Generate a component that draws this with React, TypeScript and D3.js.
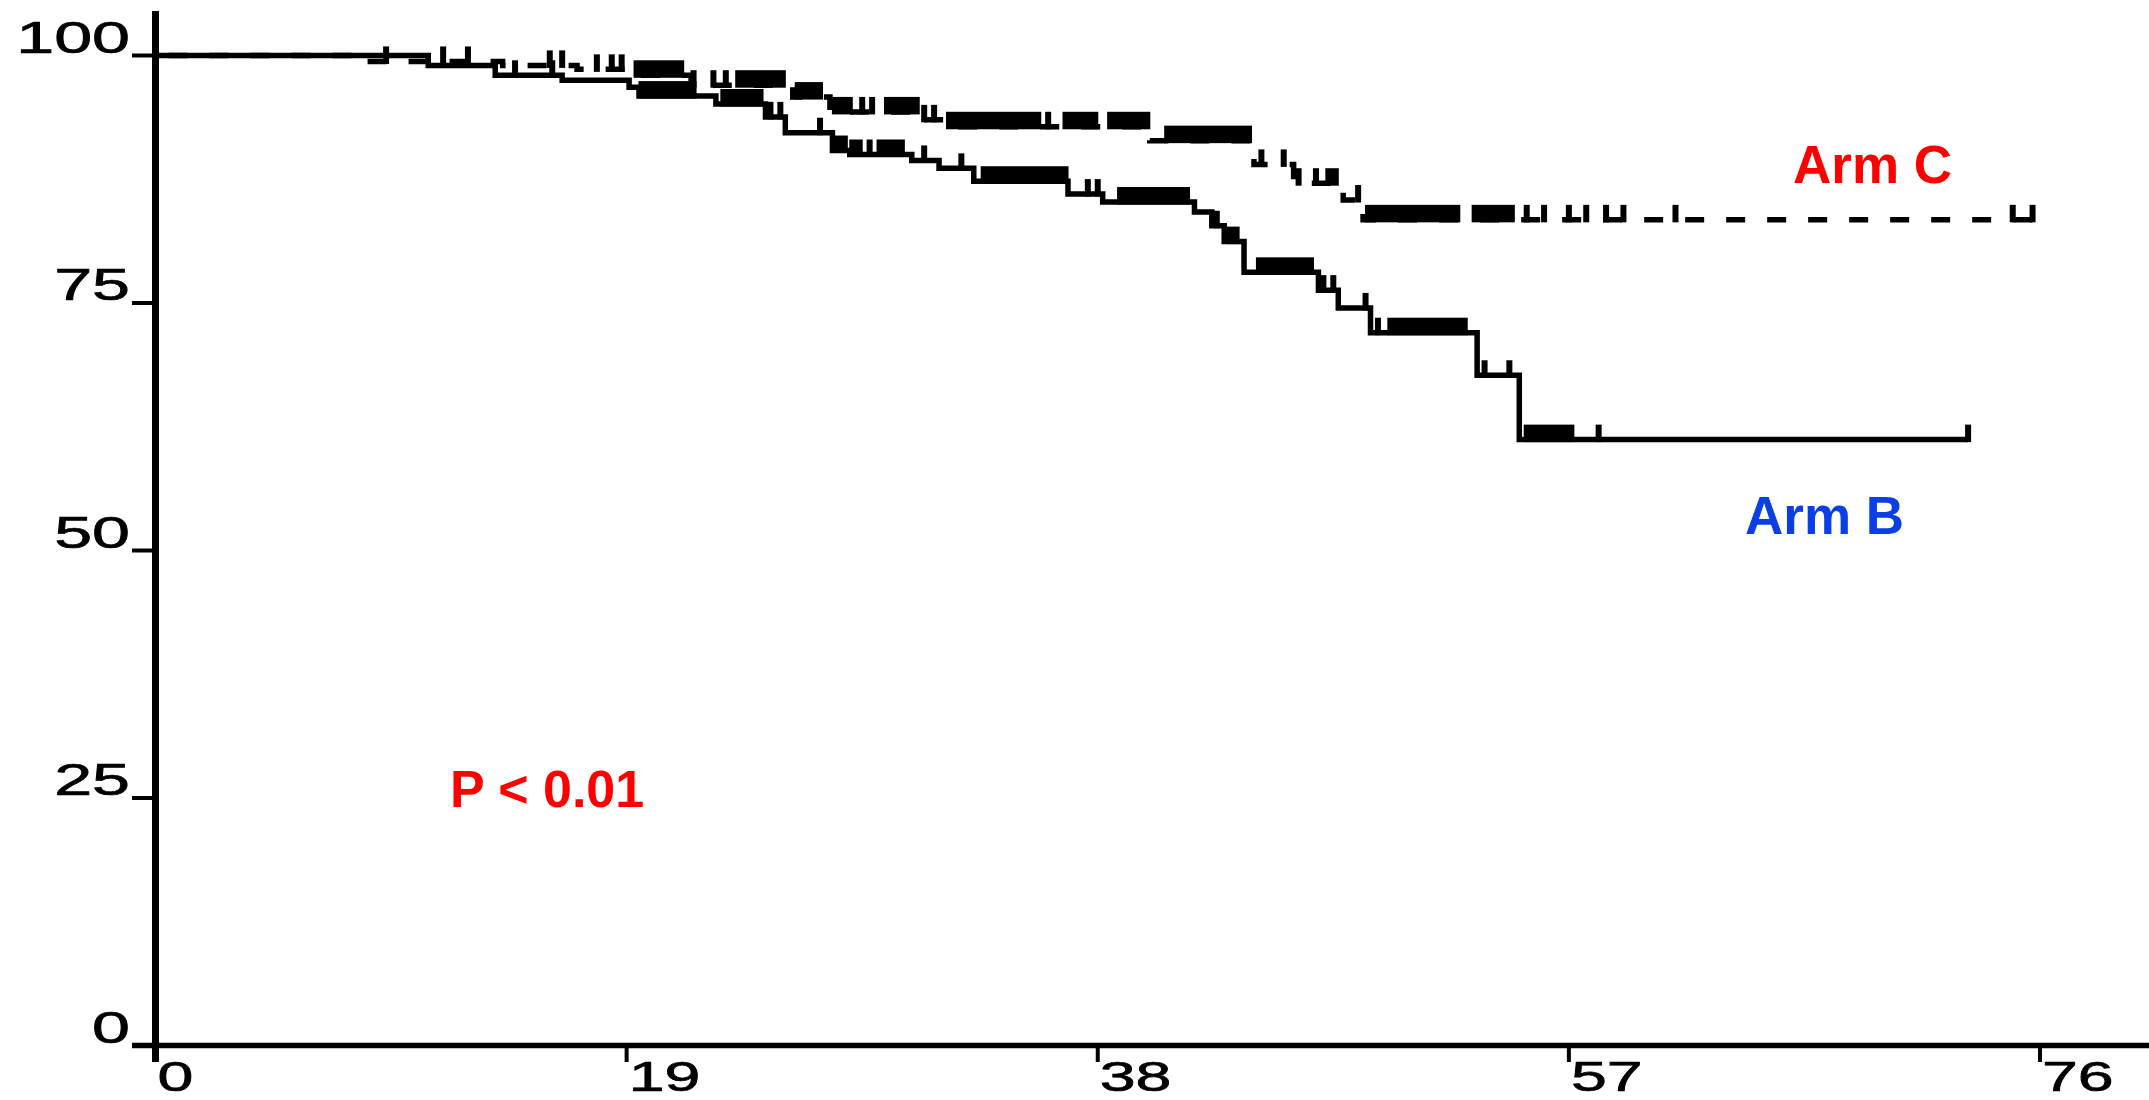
import React from 'react';
import * as d3 from 'd3';

// ---- data ----
const xTicks = [0, 19, 38, 57, 76];
const yTicks = [0, 25, 50, 75, 100];

// Arm B (solid) Kaplan-Meier steps
const armBTimes = [0, 11.0, 13.7, 16.4, 19.1, 19.5, 22.6, 24.6, 25.4, 27.3, 28.0, 30.5, 31.6, 33.0, 36.8, 38.2, 41.9, 42.6, 43.1, 43.9, 46.9, 47.7, 49.0, 53.3, 55.0, 73.1];
const armBSurv = [100, 99.0, 98.0, 97.5, 96.8, 95.9, 95.1, 93.8, 92.2, 90.4, 90.0, 89.4, 88.6, 87.3, 86.0, 85.2, 84.2, 82.8, 81.2, 78.1, 76.3, 74.5, 72.0, 67.7, 61.2, 61.2];
const armBCensor = [14.5, 16.0, 19.6, 19.9, 20.2, 20.5, 20.8, 21.1, 21.4, 21.7, 22.9, 23.2, 23.5, 23.8, 24.1, 24.4, 24.8, 25.2, 26.8, 27.5, 27.8, 28.1, 28.4, 28.8, 29.2, 29.5, 29.8, 30.1, 31.0, 32.5, 33.4, 33.7, 34.0, 34.3, 34.6, 34.9, 35.2, 35.5, 35.8, 36.1, 36.4, 36.7, 37.6, 38.0, 38.9, 39.2, 39.5, 39.8, 40.1, 40.4, 40.7, 41.0, 41.3, 41.6, 42.8, 43.3, 43.6, 44.5, 44.8, 45.1, 45.4, 45.7, 46.0, 46.3, 46.6, 47.1, 47.5, 48.8, 49.3, 49.8, 50.1, 50.4, 50.7, 51.0, 51.3, 51.6, 51.9, 52.2, 52.5, 52.8, 53.6, 54.6, 55.3, 55.6, 55.9, 56.2, 56.5, 56.8, 57.1, 58.2, 73.1];

// Arm C (dashed) Kaplan-Meier steps
const armCTimes = [0, 8.3, 14.0, 17.0, 19.3, 21.6, 25.7, 27.2, 30.8, 31.8, 40.1, 44.3, 45.9, 47.9, 48.7, 75.7];
const armCSurv = [100, 99.4, 99.0, 98.6, 98.0, 97.0, 95.8, 94.3, 93.5, 92.8, 91.4, 89.0, 87.1, 85.4, 83.4, 83.4];
const armCCensor = [9.3, 11.6, 12.6, 15.9, 16.4, 17.8, 18.4, 18.8, 19.4, 19.7, 20.0, 20.3, 20.6, 20.9, 21.2, 21.7, 22.5, 23.0, 23.5, 23.8, 24.1, 24.4, 24.7, 25.0, 25.3, 25.9, 26.2, 26.5, 26.8, 27.4, 27.7, 28.0, 28.5, 28.9, 29.5, 29.8, 30.1, 30.4, 30.7, 31.0, 31.4, 32.0, 32.3, 32.6, 32.9, 33.2, 33.5, 33.8, 34.1, 34.4, 34.7, 35.0, 35.3, 35.6, 36.0, 36.7, 37.0, 37.3, 37.6, 37.9, 38.5, 38.8, 39.1, 39.4, 39.7, 40.0, 40.8, 41.1, 41.4, 41.7, 42.0, 42.3, 42.6, 42.9, 43.2, 43.5, 43.8, 44.1, 44.6, 45.5, 46.1, 46.8, 47.3, 47.6, 48.5, 48.9, 49.2, 49.5, 49.8, 50.1, 50.4, 50.7, 51.0, 51.3, 51.6, 51.9, 52.2, 52.5, 53.2, 53.5, 53.8, 54.1, 54.4, 54.7, 55.3, 56.0, 57.0, 57.7, 58.5, 59.2, 61.3, 74.9, 75.7];

const seriesLabels = ['Arm C', 'Arm B'];
const pValueText = 'P < 0.01';

const W = 2149;
const H = 1100;

function stepValue(times: number[], surv: number[], t: number) {
  let s = surv[0];
  for (let i = 0; i < times.length; i++) {
    if (times[i] <= t + 1e-9) s = surv[i];
  }
  return s;
}

export default function App() {
  const x = d3.scaleLinear().domain([0, 76]).range([155.5, 2040]);
  const y = d3.scaleLinear().domain([0, 100]).range([1045.5, 55.5]);

  const line = d3
    .line<[number, number]>()
    .x((d) => x(d[0]))
    .y((d) => y(d[1]))
    .curve(d3.curveStepAfter);

  const bPts = armBTimes.map((t, i) => [t, armBSurv[i]] as [number, number]);
  const cPts = armCTimes.map((t, i) => [t, armCSurv[i]] as [number, number]);

  const tickFont = '"Liberation Sans", Arial, sans-serif';
  const labelFont = '"Liberation Sans", Arial, Helvetica, sans-serif';

  const TICK_W = 6;
  // censor marks: vertical ticks rising from the curve; ticks that touch are drawn as one block
  const censorMarks = (times: number[], surv: number[], cens: number[], key: string) => {
    const marks = cens
      .map((t) => ({ px: x(t), py: y(stepValue(times, surv, t)) }))
      .sort((a, b) => a.px - b.px);
    const groups: { x0: number; x1: number; py: number }[] = [];
    marks.forEach((m) => {
      const g = groups[groups.length - 1];
      if (g && Math.abs(g.py - m.py) < 0.5 && m.px - g.x1 <= 9) {
        g.x1 = m.px;
      } else {
        groups.push({ x0: m.px, x1: m.px, py: m.py });
      }
    });
    return groups.map((g, i) => (
      <rect
        key={key + i}
        x={g.x0 - TICK_W / 2}
        width={g.x1 - g.x0 + TICK_W}
        y={g.py - 15}
        height={17.5}
        fill="#000"
      />
    ));
  };

  return (
    <svg
      width={W}
      height={H}
      viewBox={`0 0 ${W} ${H}`}
      style={{ position: 'absolute', left: 0, top: 0, background: '#fff' }}
    >
      <rect x={0} y={0} width={W} height={H} fill="#fff" />
      {/* y axis */}
      <line x1={x(0)} x2={x(0)} y1={11} y2={1062} stroke="#000" strokeWidth={7} />
      {/* x axis */}
      <line x1={132} x2={W} y1={y(0)} y2={y(0)} stroke="#000" strokeWidth={5.5} />
      {/* y ticks */}
      {yTicks.map((v) => (
        <g key={'yt' + v}>
          <line x1={132} x2={x(0)} y1={y(v)} y2={y(v)} stroke="#000" strokeWidth={4} />
          <text
            transform={`translate(130, ${y(v) - 3}) scale(1.55, 1)`}
            textAnchor="end"
            fontFamily={tickFont}
            fontSize={44}
            fill="#000"
            stroke="#000"
            strokeWidth={0.7}
          >
            {v}
          </text>
        </g>
      ))}
      {/* x ticks */}
      {xTicks.map((v) => (
        <g key={'xt' + v}>
          <line x1={x(v)} x2={x(v)} y1={y(0)} y2={1062} stroke="#000" strokeWidth={4} />
          <text
            transform={`translate(${x(v) + 2}, 1091) scale(1.5, 1)`}
            textAnchor="start"
            fontFamily={tickFont}
            fontSize={43}
            fill="#000"
            stroke="#000"
            strokeWidth={0.7}
          >
            {v}
          </text>
        </g>
      ))}

      {/* curves */}
      <path d={line(bPts) || ''} fill="none" stroke="#000" strokeWidth={5.5} />
      <path
        d={line(cPts) || ''}
        fill="none"
        stroke="#000"
        strokeWidth={5.5}
        strokeDasharray="19 22"
        strokeDashoffset={28}
      />
      {censorMarks(armBTimes, armBSurv, armBCensor, 'cb')}
      {censorMarks(armCTimes, armCSurv, armCCensor, 'cc')}

      {/* annotations */}
      <text x={1793} y={183} fontFamily={labelFont} fontWeight="bold" fontSize={53} fill="#ff0000">
        {seriesLabels[0]}
      </text>
      <text x={1745} y={534} fontFamily={labelFont} fontWeight="bold" fontSize={53} fill="#0b3fe6">
        {seriesLabels[1]}
      </text>
      <text x={450} y={807} fontFamily={labelFont} fontWeight="bold" fontSize={52} fill="#ff0000">
        {pValueText}
      </text>
    </svg>
  );
}
